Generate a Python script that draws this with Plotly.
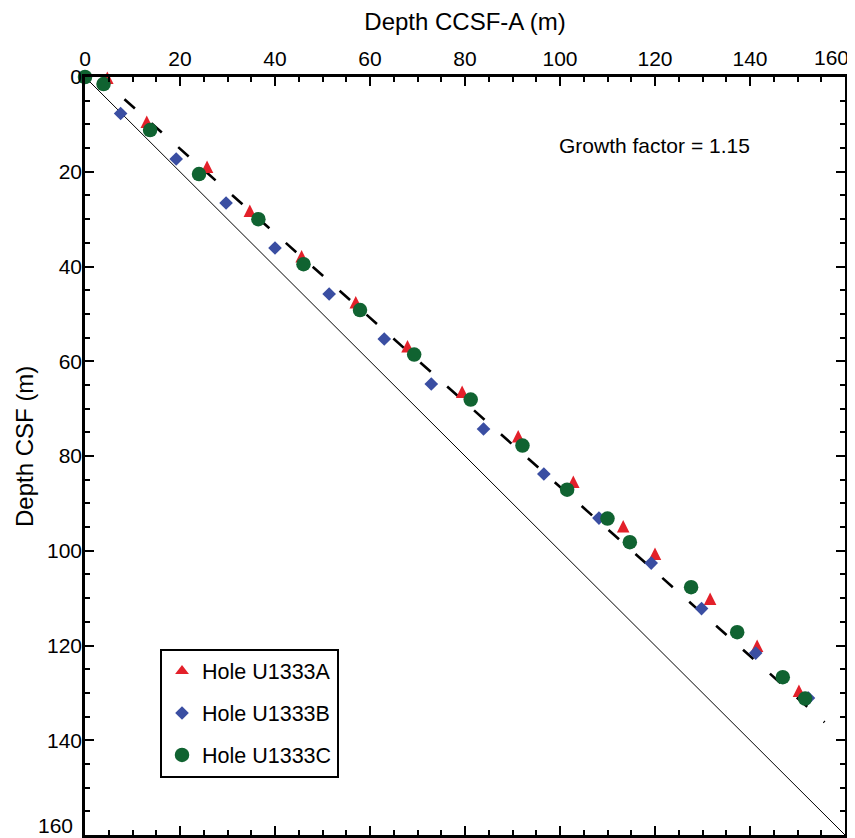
import plotly.graph_objects as go

# Depth CCSF-A (x) vs Depth CSF (y)
hole_a_ccsf = [4.7, 13.0, 25.7, 34.7, 45.6, 57.0, 67.9, 79.4, 91.2, 102.8, 113.3, 120.0, 131.6, 141.5, 150.3]
hole_a_csf = [0.3, 9.6, 19.1, 28.4, 38.0, 47.7, 57.0, 66.6, 76.0, 85.6, 95.0, 100.8, 110.3, 120.2, 129.7]

hole_b_ccsf = [7.5, 19.2, 29.7, 40.0, 51.4, 63.0, 72.9, 83.9, 96.6, 108.2, 119.2, 129.8, 141.2, 152.3]
hole_b_csf = [7.7, 17.3, 26.6, 36.1, 45.8, 55.3, 64.8, 74.3, 83.8, 93.1, 102.6, 112.2, 121.6, 131.1]

hole_c_ccsf = [0.0, 3.9, 13.7, 24.0, 36.5, 46.0, 57.9, 69.3, 81.2, 92.1, 101.5, 110.0, 114.7, 127.6, 137.3, 146.9, 151.6]
hole_c_csf = [0.0, 1.5, 11.2, 20.5, 30.0, 39.5, 49.2, 58.6, 68.1, 77.8, 87.1, 93.2, 98.2, 107.7, 117.2, 126.7, 131.2]

fit_ccsf = [8.3, 155.7]
fit_csf = [4.7, 136.2]

one_to_one = [0, 160]

tick_vals = [0, 20, 40, 60, 80, 100, 120, 140]
edge_tick = 160

RED = "#e3202a"
BLUE = "#3a4ea2"
GREEN = "#106331"
FONT = "Liberation Sans, Arial, Helvetica, sans-serif"

fig = go.Figure()

fig.add_trace(go.Scatter(x=one_to_one, y=one_to_one, mode="lines",
                         line=dict(color="black", width=1), showlegend=False, hoverinfo="skip"))
fig.add_trace(go.Scatter(x=fit_ccsf, y=fit_csf, mode="lines",
                         line=dict(color="black", width=2.6, dash="14px,22px"),
                         showlegend=False, hoverinfo="skip"))

# Hole A: drawn triangles (legend shows a centred triangle entry instead)
fig.add_trace(go.Scatter(x=hole_a_ccsf, y=hole_a_csf, mode="markers", name="Hole U1333A",
                         legendgroup="a", showlegend=False,
                         marker=dict(symbol="arrow-down", size=12.5, color=RED, angle=180, standoff=7,
                                     line=dict(width=0)),
                         cliponaxis=False))
fig.add_trace(go.Scatter(x=[None], y=[None], mode="markers", name="Hole U1333A",
                         legendgroup="a", showlegend=True,
                         marker=dict(symbol="triangle-up", size=12, color=RED, line=dict(width=0))))
fig.add_trace(go.Scatter(x=hole_b_ccsf, y=hole_b_csf, mode="markers", name="Hole U1333B",
                         legendgroup="b",
                         marker=dict(symbol="diamond", size=10.5, color=BLUE, line=dict(width=0)),
                         cliponaxis=False))
fig.add_trace(go.Scatter(x=hole_c_ccsf, y=hole_c_csf, mode="markers", name="Hole U1333C",
                         legendgroup="c",
                         marker=dict(symbol="circle", size=14.5, color=GREEN, line=dict(width=0)),
                         cliponaxis=False))

axis_common = dict(
    tickvals=tick_vals,
    ticks="inside", ticklen=9, tickwidth=2, tickcolor="black",
    minor=dict(dtick=5, ticks="inside", ticklen=5.5, tickwidth=2, tickcolor="black"),
    showline=True, linecolor="black", linewidth=2.5, mirror="ticks",
    showgrid=False, zeroline=False, automargin=False,
    tickfont=dict(family=FONT, size=21, color="black"),
)

fig.update_xaxes(**axis_common, side="top", range=[0, 160],
                 title=dict(text="Depth CCSF-A (m)", font=dict(family=FONT, size=24, color="black"),
                            standoff=12))
fig.update_yaxes(**axis_common, range=[160, 0], autorange=False, ticklabelstandoff=-4)

# y-axis title placed explicitly
fig.add_annotation(text="Depth CSF (m)", textangle=-90, x=0, xref="paper", y=0.5, yref="paper",
                   xanchor="center", yanchor="middle", xshift=-61, yshift=9, showarrow=False,
                   font=dict(family=FONT, size=24, color="black"))

# edge tick labels (pulled inward as in the original)
fig.add_annotation(text=str(edge_tick), x=edge_tick, xref="x", y=1, yref="paper",
                   xanchor="right", yanchor="middle", xshift=6, yshift=20, showarrow=False,
                   font=dict(family=FONT, size=21, color="black"))
fig.add_annotation(text=str(edge_tick), x=0, xref="paper", y=edge_tick, yref="y",
                   xanchor="right", yanchor="middle", xshift=-10, yshift=10, showarrow=False,
                   font=dict(family=FONT, size=21, color="black"))

fig.add_annotation(text="Growth factor = 1.15", x=99.4, y=14.4, xref="x", yref="y",
                   xanchor="left", yanchor="middle", showarrow=False,
                   font=dict(family=FONT, size=21, color="black"))

# the page places the figure 8 px in from the top-left corner; margins compensate for it
fig.update_layout(
    width=847, height=830,
    margin=dict(l=77, r=10, t=69, b=3),
    plot_bgcolor="white", paper_bgcolor="white",
    font=dict(family=FONT, color="black"),
    legend=dict(x=0.0987, y=0.246, xanchor="left", yanchor="top",
                bordercolor="black", borderwidth=2, bgcolor="white",
                font=dict(family=FONT, size=21.5, color="black"),
                tracegroupgap=11, traceorder="grouped"),
)

fig.write_html("out.html")
